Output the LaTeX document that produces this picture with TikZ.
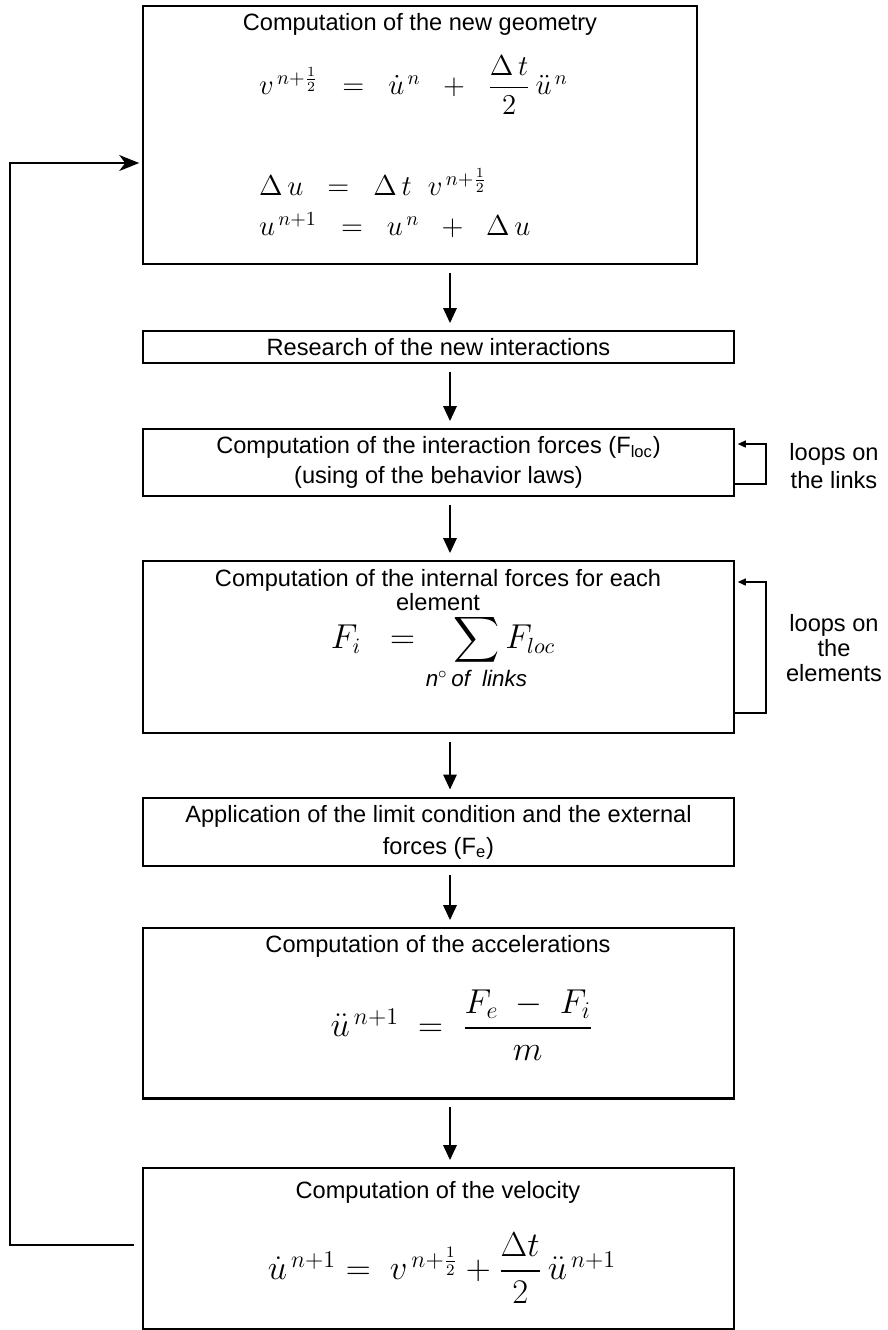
\documentclass[tikz,border=0pt]{standalone}
\usepackage{amsmath,amssymb}
\usepackage{fontspec}
\setmainfont{Liberation Sans}
\usetikzlibrary{arrows.meta,fit}

\begin{document}
\begin{tikzpicture}[x=0.5pt,y=-0.5pt,font=\fontsize{11.8}{14}\selectfont,
  box/.style={draw,line width=0.8pt,inner sep=0pt},
  flow/.style={-{Triangle[length=7.5pt,width=6.5pt]},line width=1.4pt,shorten <=4pt,shorten >=3.5pt},
  loopback/.style={-{Triangle[length=4pt,width=3.5pt]},line width=0.7pt,shorten >=1.5pt},
  backflow/.style={-{Stealth[length=10pt,width=8pt,inset=3pt]},line width=0.75pt,shorten <=4pt,shorten >=1.5pt},
  eq/.style={font=\fontsize{14}{17}\selectfont},
  bigeq/.style={font=\fontsize{16.5}{20}\selectfont}]
\useasboundingbox (0,0) rectangle (888,1330);
\coordinate (ax) at (450,0);

\node[box,fit={(143,6) (697,264)}] (geom) {};
\node (geomtitle) at (420,24) {Computation of the new geometry};
\node[eq,anchor=west] (veq) at (252,85) {$v^{\,n+\frac{1}{2}}\;\;=\;\;\dot{u}^{\,n}\;\;+\;\;\dfrac{\Delta\,t}{2}\,\ddot{u}^{\,n}$};
\node[eq,anchor=west] (dueq) at (252,182) {$\Delta\,u\;\;=\;\;\Delta\,t\;\;v^{\,n+\frac{1}{2}}$};
\node[eq,anchor=west] (ueq) at (252,225) {$u^{\,n+1}\;\;=\;\;u^{\,n}\;\;+\;\;\Delta\,u$};

\node[box,fit={(143,331) (734,363)}] (research) {};
\node at (research) {Research of the new interactions};

\node[box,fit={(143,429) (734,496)}] (forces) {};
\node[align=center,font=\fontsize{11.8}{15}\selectfont] at (forces) {Computation of the interaction forces (F\textsubscript{loc})\\(using of the behavior laws)};
\node[align=center] (linkslbl) at (834,466) {loops on\\the links};

\node[box,fit={(143,561) (734,733)}] (internal) {};
\node[align=center,font=\fontsize{11.8}{12}\selectfont] at (438,590) {Computation of the internal forces for each\\element};
\node[font=\fontsize{16}{19}\selectfont] (fieq) at (443,652) {$F_i\;\;=\;\;\;\displaystyle\sum_{\makebox[0pt]{$\scriptstyle\mathit{n^{\circ}\,of\;\;links}$}}F_{loc}$};
\node[align=center,font=\fontsize{11.8}{12.5}\selectfont] (elemlbl) at (834,648) {loops on\\the\\elements};

\node[box,line width=1.4pt,fit={(143,798) (734,866)}] (limit) {};
\node[align=center,font=\fontsize{11.8}{16}\selectfont] at (limit) {Application of the limit condition and the external\\forces (F\textsubscript{e})};

\node[box,fit={(143,928) (734,1098)}] (accel) {};
\node at (438,946) {Computation of the accelerations};
\node[bigeq] (acceq) at (462,1025) {$\ddot{u}^{\,n+1}\;=\;\dfrac{F_e\;-\;F_i}{\;\;m\;\;}$};

\node[box,fit={(143,1168) (734,1329)}] (velo) {};
\node at (438,1192) {Computation of the velocity};
\node[bigeq] (veloeq) at (442,1268) {$\dot{u}^{\,n+1}=\;v^{\,n+\frac{1}{2}}+\dfrac{\Delta t}{2}\,\ddot{u}^{\,n+1}$};

\draw[line width=1.4pt] (accel.south west) -- (accel.south east);

\draw[flow] (geom.south -| ax) -- (research.north -| ax);
\draw[flow] (research.south -| ax) -- (forces.north -| ax);
\draw[flow] (forces.south -| ax) -- (internal.north -| ax);
\draw[flow] (internal.south -| ax) -- (limit.north -| ax);
\draw[flow] (limit.south -| ax) -- (accel.north -| ax);
\draw[flow] (accel.south -| ax) -- (velo.north -| ax);

\draw[loopback] (forces.east |- 0,484) -- (766,484) -- (766,444) -- (forces.east |- 0,444);
\draw[loopback] (internal.east |- 0,713) -- (766,713) -- (766,582) -- (internal.east |- 0,582);

\draw[backflow] (velo.west |- 0,1245) -- (10,1245) -- (10,163) -- (geom.west |- 0,163);
\end{tikzpicture}
\end{document}
